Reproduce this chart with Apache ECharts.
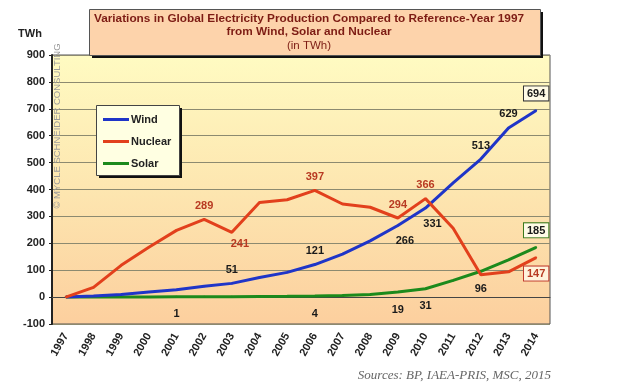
<!DOCTYPE html>
<html><head><meta charset="utf-8">
<script src="https://cdn.jsdelivr.net/npm/echarts@6/dist/echarts.min.js"></script>
<style>html,body{margin:0;padding:0;background:#fff}#c{width:635px;height:390px}</style>
</head><body><div id="c"></div>
<script>
const years = ['1997','1998','1999','2000','2001','2002','2003','2004','2005','2006','2007','2008','2009','2010','2011','2012','2013','2014'];
const wind    = [0, 4, 10, 19, 27, 40, 51, 73, 92, 121, 160, 209, 266, 331, 425, 513, 629, 694];
const nuclear = [0, 36, 118, 185, 248, 289, 241, 352, 362, 397, 346, 334, 294, 366, 256, 83, 94, 147];
const solar   = [0, 0, 0, 0, 1, 1, 1.5, 2.5, 3, 4, 6, 10, 19, 31, 62, 96, 138, 185];
const yTicks = {min: -100, max: 900, step: 100};
const sourceText = 'Sources: BP, IAEA-PRIS, MSC, 2015';

// which points carry a value label (index -> placement kind)
const windLab = {6:'top',9:'top',12:'br',13:'br',15:'top',16:'top',17:'boxTop'};
const nucLab  = {5:'top',6:'br2',9:'top',12:'top',13:'top',17:'boxBottom'};
const solLab  = {4:'bottom',9:'bottom',12:'bottom',13:'bottom',15:'bottom',17:'boxTop'};

function labelFor(kind, color, boxBorder) {
  const base = {show:true, color: color, fontWeight:'bold', fontSize:11, fontFamily:'Liberation Sans, Arial'};
  if (kind === 'top') return Object.assign(base, {position:'top', distance:7});
  if (kind === 'bottom') return Object.assign(base, {position:'bottom', distance:11});
  if (kind === 'br') return Object.assign(base, {position:'bottom', distance:9, offset:[7,0]});
  if (kind === 'br2') return Object.assign(base, {position:'bottom', distance:5, offset:[8,0]});
  if (kind === 'boxTop') return Object.assign(base, {position:'top', distance:9, backgroundColor:'#fffbe6', borderColor:boxBorder, borderWidth:1, padding:[2,3,1,3]});
  if (kind === 'boxBottom') return Object.assign(base, {position:'bottom', distance:8, backgroundColor:'#fff3dc', borderColor:boxBorder, borderWidth:1, padding:[2,3,1,3]});
}
function build(values, labs, color, boxBorder) {
  return values.map((v,i) => labs[i] ? {value:v, label: labelFor(labs[i], color, boxBorder)} : {value:v});
}

const chart = echarts.init(document.getElementById('c'), null, {renderer:'canvas'});
const font = 'Liberation Sans, Arial, sans-serif';
chart.setOption({
  animation:false,
  backgroundColor:'#ffffff',
  grid:{left:52, right:85, top:55, bottom:66, show:true, borderColor:'#555', borderWidth:1,
    backgroundColor:{type:'linear',x:0,y:0,x2:0,y2:1,colorStops:[{offset:0,color:'#fffbc2'},{offset:0.5,color:'#fde6b0'},{offset:1,color:'#fccf9e'}]}},
  legend:{orient:'vertical', left:96, top:105, width:83, height:70, z:8,
    padding:[9,8,6,7], itemGap:11, itemWidth:26, itemHeight:3, icon:'rect',
    textStyle:{fontWeight:'bold', fontSize:11, color:'#222', fontFamily:font, padding:[0,0,0,-3]},
    data:['Wind','Nuclear','Solar']},
  xAxis:{type:'category', data:years, boundaryGap:true,
    axisLine:{show:true, lineStyle:{color:'#444', width:1}}, axisTick:{show:false},
    axisLabel:{rotate:60, fontWeight:'bold', fontSize:11, color:'#222', fontFamily:font, margin:10, interval:0}},
  yAxis:{type:'value', min:yTicks.min, max:yTicks.max, interval:yTicks.step,
    axisLine:{show:true, lineStyle:{color:'#222', width:2}}, axisTick:{show:true, length:3, lineStyle:{color:'#222'}},
    axisLabel:{fontWeight:'bold', fontSize:11, color:'#222', fontFamily:font, margin:7},
    splitLine:{lineStyle:{color:'#8c8a70', width:1}}},
  series:[
    {name:'Wind', type:'line', data:build(wind, windLab, '#1a1a1a', '#333'), symbol:'circle', symbolSize:2, showSymbol:true, z:3,
      lineStyle:{color:'#1f35c8', width:3}, itemStyle:{color:'#1f35c8'}},
    {name:'Nuclear', type:'line', data:build(nuclear, nucLab, '#b83a22', '#c0392b'), symbol:'circle', symbolSize:2, showSymbol:true, z:4,
      lineStyle:{color:'#e2401c', width:3}, itemStyle:{color:'#e2401c'}},
    {name:'Solar', type:'line', data:build(solar, solLab, '#1a1a1a', '#3c7a1c'), symbol:'circle', symbolSize:2, showSymbol:true, z:2,
      lineStyle:{color:'#1c8a1c', width:3}, itemStyle:{color:'#1c8a1c'}}
  ],
  graphic:[
    // title box: shadow then face
    {type:'rect', left:92, top:12, shape:{width:451, height:46}, z:10, style:{fill:'#111'}},
    {type:'rect', left:89, top:9, shape:{width:451, height:46}, z:11, style:{fill:'#fdd3ab', stroke:'#555', lineWidth:1}},
    {type:'text', x:309, y:19, z:12, style:{text:'Variations in Global Electricity Production Compared to Reference-Year 1997', align:'center', verticalAlign:'middle', fill:'#7d1c14', font:'bold 11.8px '+font}},
    {type:'text', x:309, y:32, z:12, style:{text:'from Wind, Solar and Nuclear', align:'center', verticalAlign:'middle', fill:'#7d1c14', font:'bold 11.8px '+font}},
    {type:'text', x:309, y:46, z:12, style:{text:'(in TWh)', align:'center', verticalAlign:'middle', fill:'#7d1c14', font:'11.5px '+font}},
    // legend box: shadow then face
    {type:'rect', left:99, top:108, shape:{width:83, height:70}, z:6, style:{fill:'#111'}},
    {type:'rect', left:96, top:105, shape:{width:83, height:70}, z:7, style:{fill:'#ffffe2', stroke:'#444', lineWidth:1}},
    {type:'text', x:30, y:34, z:11, style:{text:'TWh', align:'center', verticalAlign:'middle', fill:'#222', font:'bold 11px '+font}},
    {type:'text', x:57, y:126, rotation:Math.PI/2, z:11, style:{text:'© MYCLE SCHNEIDER CONSULTING', align:'center', verticalAlign:'middle', fill:'#9a9a9a', font:'9.5px '+font}},
    {type:'text', x:551, y:376, z:11, style:{text:sourceText, align:'right', verticalAlign:'middle', fill:'#666', font:'italic 13px Liberation Serif, serif'}}
  ]
});
</script></body></html>
